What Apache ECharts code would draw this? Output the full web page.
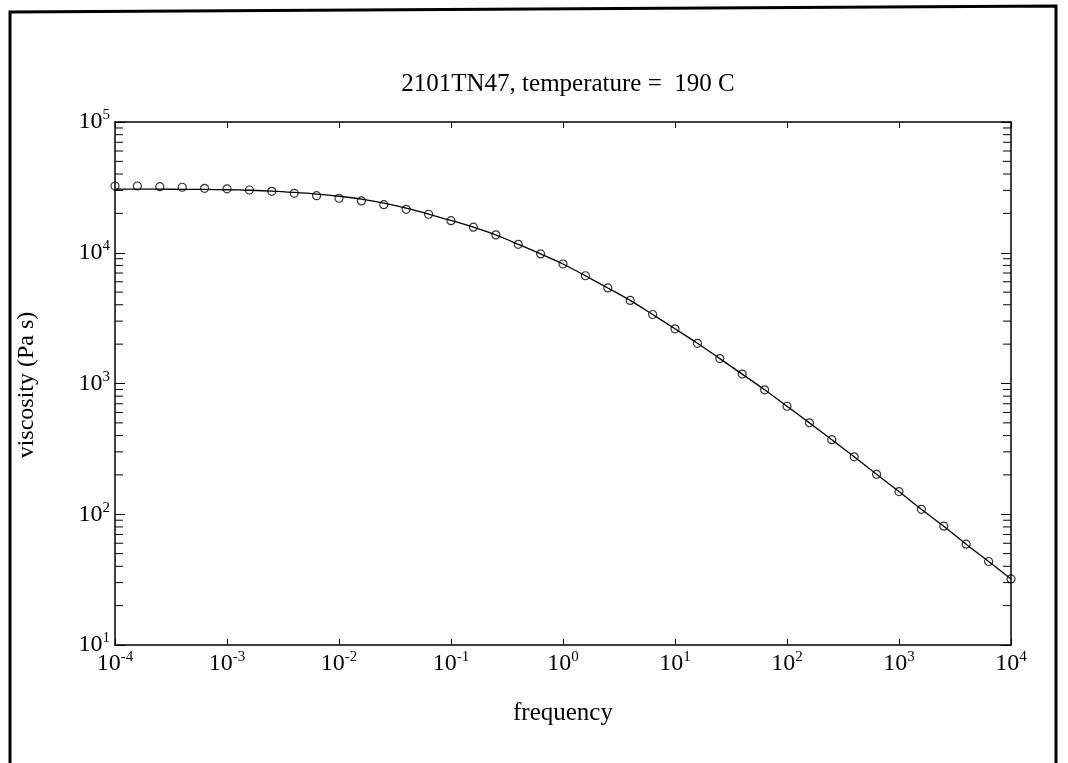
<!DOCTYPE html>
<html>
<head>
<meta charset="utf-8">
<script src="https://cdn.jsdelivr.net/npm/echarts@6/dist/echarts.min.js"></script>
<style>
  html, body { margin: 0; padding: 0; background: #fff; }
  #chart { width: 1068px; height: 763px; }
</style>
</head>
<body>
<div id="chart"></div>
<script>
// frequency of the measured points (5 per decade)
const freq = [
  1e-4, 1.585e-4, 2.512e-4, 3.981e-4, 6.310e-4,
  1e-3, 1.585e-3, 2.512e-3, 3.981e-3, 6.310e-3,
  1e-2, 1.585e-2, 2.512e-2, 3.981e-2, 6.310e-2,
  1e-1, 1.585e-1, 2.512e-1, 3.981e-1, 6.310e-1,
  1, 1.585, 2.512, 3.981, 6.310,
  10, 15.85, 25.12, 39.81, 63.10,
  100, 158.5, 251.2, 398.1, 631.0,
  1000, 1585, 2512, 3981, 6310,
  10000
]
// measured viscosity (circles)
const viscPts = [
  32400, 32400, 32000, 31700, 31100,
  30800, 30200, 29500, 28500, 27300,
  26100, 24900, 23300, 21500, 19700,
  17600, 15700, 13700, 11600, 9800,
  8200, 6670, 5380, 4320, 3370,
  2620, 2030, 1550, 1180, 895,
  670, 500, 372, 275, 202,
  149, 109, 81, 59, 43.5,
  32
]
// fitted curve (solid line)
const viscFit = [
  30620, 30620, 30620, 30550, 30480,
  30340, 30060, 29650, 28970, 28120,
  27040, 25700, 23930, 21930, 19770,
  17660, 15700, 13680, 11600, 9800,
  8200, 6670, 5380, 4320, 3370,
  2620, 2030, 1550, 1180, 895,
  670, 500, 372, 275, 202,
  149, 109, 81, 59, 43.5,
  32
]
// minor ticks on the y axis
const yMinor = []
for (let d = 10; d < 100000; d *= 10) {
  for (let m = 2; m <= 9; m++) yMinor.push(m * d)
}

const FONT = 'Liberation Serif'

function expLabel(v) {
  const e = Math.round(Math.log10(v))
  return '{b|10}{s|' + e + '}'
}
const labelRich = {
  b: { fontFamily: FONT, fontSize: 24, color: '#000' },
  s: { fontFamily: FONT, fontSize: 15, color: '#000', verticalAlign: 'bottom', padding: [0, 0, 13, 0] }
}

const chart = echarts.init(document.getElementById('chart'))

chart.setOption({
  backgroundColor: '#fff',
  animation: false,
  title: {
    text: '2101TN47, temperature =  190 C',
    left: 563,
    textAlign: 'center',
    top: 67,
    textStyle: { fontFamily: FONT, fontSize: 25, fontWeight: 'normal', color: '#000' }
  },
  graphic: [
    {
      type: 'polyline',
      shape: { points: [[10, 800], [10, 12], [1056, 6], [1056, 800]] },
      style: { stroke: '#000', lineWidth: 3, fill: null }
    },
    {
      type: 'text',
      x: 563,
      y: 713,
      style: { text: 'frequency', font: '25px "Liberation Serif"', fill: '#000', align: 'center', verticalAlign: 'middle' }
    },
    {
      type: 'text',
      x: 27,
      y: 385,
      rotation: Math.PI / 2,
      style: { text: 'viscosity (Pa s)', font: '24px "Liberation Serif"', fill: '#000', align: 'center', verticalAlign: 'middle' }
    }
  ],
  grid: { left: 115, right: 57, top: 122, bottom: 118 },
  xAxis: [
    {
      type: 'log', logBase: 10, min: 1e-4, max: 1e4, splitNumber: 8,
      axisLine: { lineStyle: { color: '#000', width: 1.5 } },
      axisTick: { inside: true, length: 6, lineStyle: { color: '#000' } },
      axisLabel: { formatter: expLabel, rich: labelRich, margin: 5 },
      splitLine: { show: false }
    },
    {
      type: 'log', logBase: 10, min: 1e-4, max: 1e4, splitNumber: 8, position: 'top',
      axisLine: { lineStyle: { color: '#000', width: 1.5 } },
      axisTick: { inside: true, length: 6, lineStyle: { color: '#000' } },
      axisLabel: { show: false },
      splitLine: { show: false }
    }
  ],
  yAxis: [
    {
      type: 'log', logBase: 10, min: 10, max: 1e5, splitNumber: 4,
      axisLine: { lineStyle: { color: '#000', width: 1.5 } },
      axisTick: { inside: true, length: 10, lineStyle: { color: '#000' } },
      axisLabel: { formatter: expLabel, rich: labelRich, margin: 5 },
      splitLine: { show: false }
    },
    {
      type: 'log', logBase: 10, min: 10, max: 1e5, splitNumber: 4, position: 'right',
      axisLine: { lineStyle: { color: '#000', width: 1.5 } },
      axisTick: { inside: true, length: 10, lineStyle: { color: '#000' } },
      axisLabel: { show: false },
      splitLine: { show: false }
    }
  ],
  series: [
    {
      type: 'line',
      data: freq.map((f, i) => [f, viscFit[i]]),
      smooth: 0.3,
      showSymbol: false,
      lineStyle: { color: '#000', width: 1.3 },
      z: 2
    },
    {
      type: 'scatter',
      data: freq.map((f, i) => [f, viscPts[i]]),
      symbol: 'circle',
      symbolSize: 8,
      itemStyle: { color: 'rgba(255,255,255,0)', borderColor: '#000', borderWidth: 1.2 },
      z: 3
    },
    {
      type: 'custom',
      data: yMinor,
      silent: true,
      renderItem: function (params, api) {
        const v = api.value(0)
        const l = api.coord([1e-4, v])
        const r = api.coord([1e4, v])
        const len = 8
        return {
          type: 'group',
          children: [
            { type: 'line', shape: { x1: l[0], y1: l[1], x2: l[0] + len, y2: l[1] }, style: { stroke: '#000', lineWidth: 1 } },
            { type: 'line', shape: { x1: r[0], y1: r[1], x2: r[0] - len, y2: r[1] }, style: { stroke: '#000', lineWidth: 1 } }
          ]
        }
      },
      encode: { y: 0 }
    }
  ]
})
</script>
</body>
</html>
